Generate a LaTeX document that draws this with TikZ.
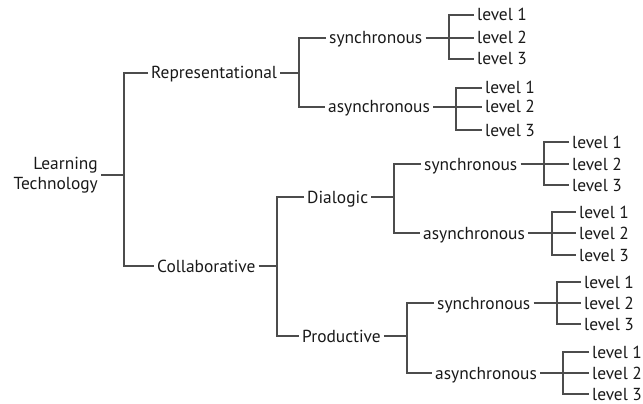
\documentclass[tikz,border=0pt]{standalone}
\usepackage{fontspec}
\setmainfont{PT Sans}
\usetikzlibrary{positioning}
\tikzset{
  item/.style={anchor=west, inner xsep=3pt, inner ysep=1pt, text height=16pt, text depth=4pt,
    font=\fontsize{17.4}{20}\selectfont, text=black!90},
  link/.style={draw=black!70, line width=1.5pt},
}
\begin{document}
\begin{tikzpicture}[x=1pt,y=-1pt]
  \useasboundingbox (0,0) rectangle (643,404);

  % Root
  \node[item, anchor=east, align=right, text height=, text depth=] (lt) at (101,175) {Learning\\Technology};

  % Second level
  \node[item] (rep) at (148,73) {Representational};
  \node[item] (col) at (154,266) {Collaborative};

  % Third level
  \node[item] (rs) at (326,38) {synchronous};
  \node[item] (ra) at (325,107) {asynchronous};
  \node[item] (dia) at (304,197) {Dialogic};
  \node[item] (pro) at (299,336) {Productive};

  % Fourth level
  \node[item] (ds) at (421,164) {synchronous};
  \node[item] (da) at (420,233) {asynchronous};
  \node[item] (ps) at (434,303) {synchronous};
  \node[item] (pa) at (432,373) {asynchronous};

  % Levels
  \node[item] (rs1) at (474,15) {level 1};
  \node[item] (rs2) at (474,38) {level 2};
  \node[item] (rs3) at (474,59) {level 3};
  \node[item] (ra1) at (482,88) {level 1};
  \node[item] (ra2) at (482,107) {level 2};
  \node[item] (ra3) at (482,130) {level 3};
  \node[item] (ds1) at (569,142) {level 1};
  \node[item] (ds2) at (569,164) {level 2};
  \node[item] (ds3) at (569,185) {level 3};
  \node[item] (da1) at (576,212) {level 1};
  \node[item] (da2) at (576,233) {level 2};
  \node[item] (da3) at (576,255) {level 3};
  \node[item] (ps1) at (581,282) {level 1};
  \node[item] (ps2) at (581,303) {level 2};
  \node[item] (ps3) at (581,324) {level 3};
  \node[item] (pa1) at (589,352) {level 1};
  \node[item] (pa2) at (589,373) {level 2};
  \node[item] (pa3) at (589,394) {level 3};

  % Bars
  \coordinate (ltb) at (124,175);
  \coordinate (repb) at (299,73);
  \coordinate (colb) at (277,266);
  \coordinate (rsb) at (449,38);
  \coordinate (rab) at (456,107);
  \coordinate (diab) at (394,197);
  \coordinate (prob) at (407,336);
  \coordinate (dsb) at (544,164);
  \coordinate (dab) at (552,233);
  \coordinate (psb) at (557,303);
  \coordinate (pab) at (563,373);

  % Two-way branches
  \draw[link] (lt.east) -- (ltb);
  \draw[link] (rep.west) -| (ltb) |- (col.west);
  \draw[link] (rep.east) -- (repb);
  \draw[link] (rs.west) -| (repb) |- (ra.west);
  \draw[link] (col.east) -- (colb);
  \draw[link] (dia.west) -| (colb) |- (pro.west);
  \draw[link] (dia.east) -- (diab);
  \draw[link] (ds.west) -| (diab) |- (da.west);
  \draw[link] (pro.east) -- (prob);
  \draw[link] (ps.west) -| (prob) |- (pa.west);

  % Three-way branches
  \draw[link] (rs1.west) -| (rsb) |- (rs3.west);
  \draw[link] (rs.east) -- (rsb) -- (rs2.west);
  \draw[link] (ra1.west) -| (rab) |- (ra3.west);
  \draw[link] (ra.east) -- (rab) -- (ra2.west);
  \draw[link] (ds1.west) -| (dsb) |- (ds3.west);
  \draw[link] (ds.east) -- (dsb) -- (ds2.west);
  \draw[link] (da1.west) -| (dab) |- (da3.west);
  \draw[link] (da.east) -- (dab) -- (da2.west);
  \draw[link] (ps1.west) -| (psb) |- (ps3.west);
  \draw[link] (ps.east) -- (psb) -- (ps2.west);
  \draw[link] (pa1.west) -| (pab) |- (pa3.west);
  \draw[link] (pa.east) -- (pab) -- (pa2.west);
\end{tikzpicture}
\end{document}
